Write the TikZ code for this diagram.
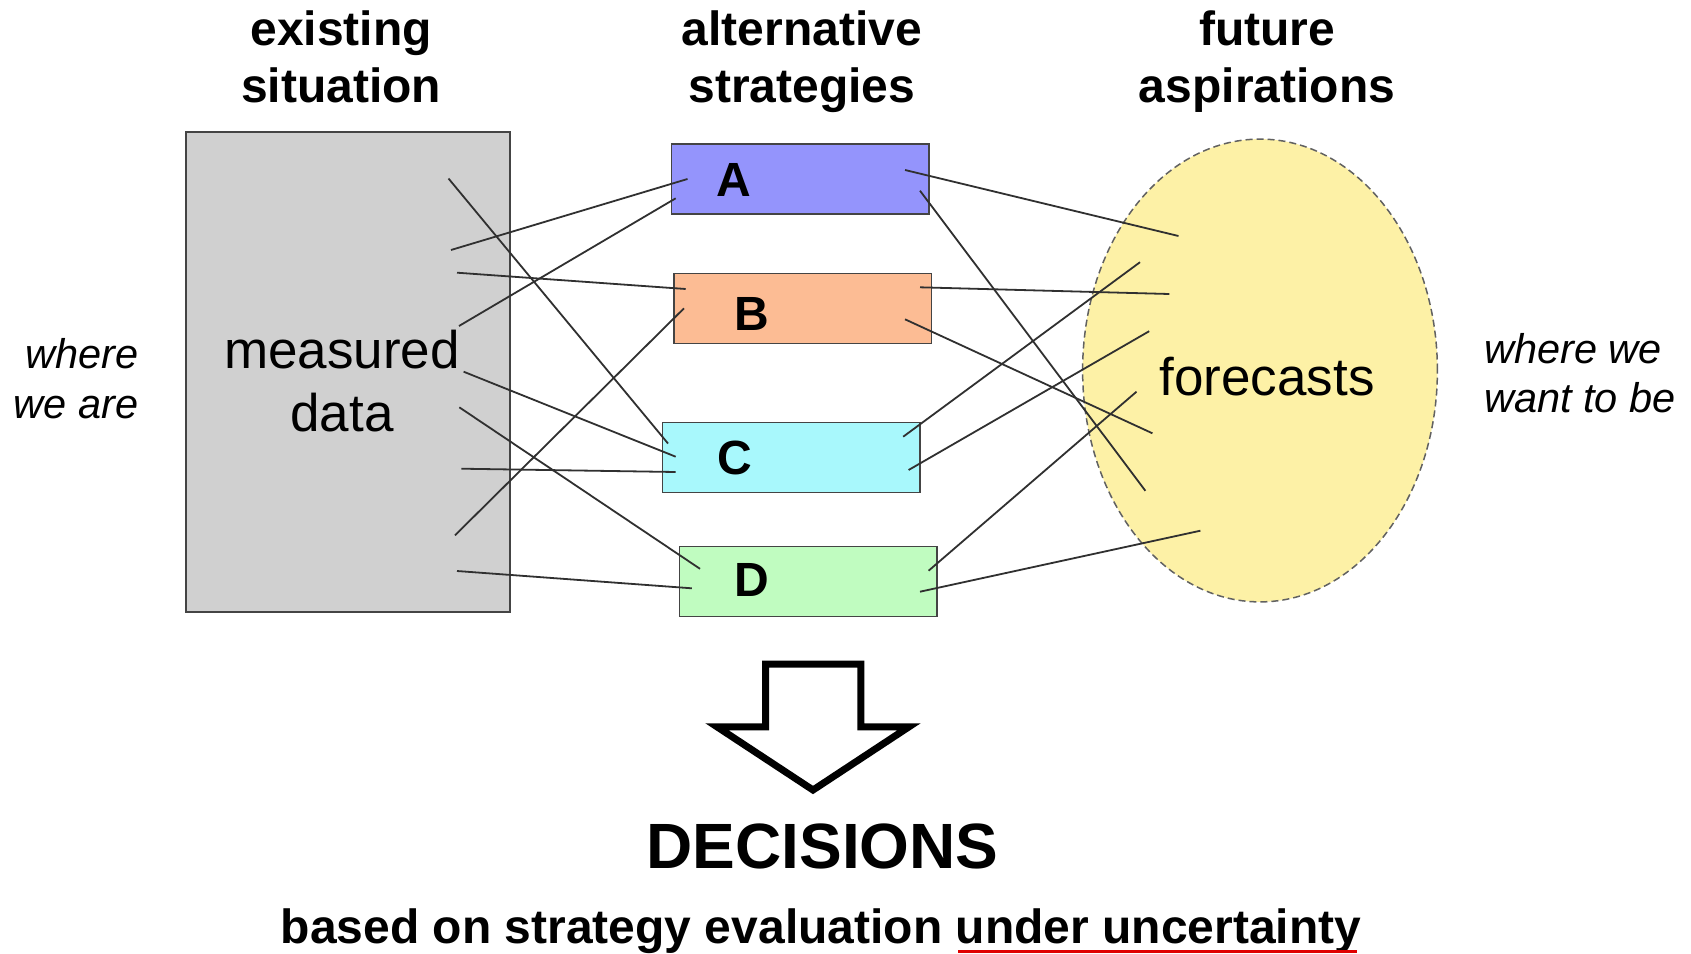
\documentclass[tikz,border=0pt]{standalone}
\usepackage{fontspec}
\setmainfont{Liberation Sans}
\usetikzlibrary{shapes.geometric}
\definecolor{grayfill}{HTML}{D0D0D0}
\definecolor{afill}{HTML}{9494FC}
\definecolor{bfill}{HTML}{FCBC94}
\definecolor{cfill}{HTML}{A8F8FC}
\definecolor{dfill}{HTML}{C0FCC0}
\definecolor{efill}{HTML}{FDF1A6}
\definecolor{linec}{HTML}{303030}
\definecolor{edgec}{HTML}{444444}
\definecolor{ulred}{HTML}{E00000}
\begin{document}
\begin{tikzpicture}[x=1pt,y=-1pt,
  conn/.style={draw=linec, line width=1.8pt},
  sbox/.style={draw=edgec, line width=1.6pt, inner sep=0pt, anchor=north west, minimum width=257.5pt, minimum height=70pt},
  title/.style={font=\fontsize{48}{56}\selectfont\bfseries, anchor=base, inner sep=0pt},
  letter/.style={font=\fontsize{48}{56}\selectfont\bfseries, anchor=base, inner sep=0pt},
  big/.style={font=\fontsize{53}{64}\selectfont, anchor=base, inner sep=0pt},
  side/.style={font=\fontsize{41.5}{49}\selectfont\itshape, inner sep=0pt}]
\useasboundingbox (0,0) rectangle (1691,953);
\fill[white] (0,0) rectangle (1691,953);

% titles
\node[title] (t1a) at (341,45) {existing};
\node[title] (t1b) at (341,102) {situation};
\node[title] (t2a) at (802,45) {alternative};
\node[title] (t2b) at (802,102) {strategies};
\node[title] (t3a) at (1267,45) {future};
\node[title] (t3b) at (1267,102) {aspirations};

% existing situation
\node[draw=edgec, line width=1.8pt, fill=grayfill, inner sep=0pt, anchor=north west,
      minimum width=324pt, minimum height=480pt] (data) at (185,130.7) {};
\node[big] (m1) at (342,368) {measured};
\node[big] (m2) at (342,431) {data};

% strategies
\node[sbox, fill=afill] (A) at (670.5,143.3) {};
\node[sbox, fill=bfill] (B) at (673,272.8) {};
\node[sbox, fill=cfill] (C) at (661.5,421.7) {};
\node[sbox, fill=dfill] (D) at (678.5,545.7) {};
\node[letter] (la) at (733.6,196.5) {A};
\node[letter] (lb) at (751.5,330) {B};
\node[letter] (lc) at (734.5,474) {C};
\node[letter] (ld) at (751.5,596) {D};

% future
\node[ellipse, draw=black!62, dash pattern=on 7pt off 4pt, line width=1.5pt, fill=efill,
      inner sep=0pt, minimum width=354.8pt, minimum height=462.8pt] (fut) at (1260,370.5) {};
\node[big] (fc) at (1267,395) {forecasts};

% side labels
\node[side, anchor=base east] (w1) at (138.5,368) {where};
\node[side, anchor=base east] (w2) at (138.5,418) {we are};
\node[side, anchor=base west] (w3) at (1484,363) {where we};
\node[side, anchor=base west] (w4) at (1484,412) {want to be};

% connector end points
\coordinate (g1) at (448.5,178.5);  \coordinate (c1) at (668,443.5);
\coordinate (g2) at (451,250);      \coordinate (a2) at (687.5,179);
\coordinate (g3) at (459,326);      \coordinate (a3) at (675.7,198.3);
\coordinate (g4) at (457,272.7);    \coordinate (b4) at (685.7,289);
\coordinate (g5) at (463.6,371.7);  \coordinate (c5) at (675.7,456.7);
\coordinate (g6) at (459.3,407.3);  \coordinate (d6) at (700,568.8);
\coordinate (g7) at (461.4,468.7);  \coordinate (c7) at (675.7,472);
\coordinate (g8) at (455,535.3);    \coordinate (b8) at (684,308.3);
\coordinate (g9) at (457,571);      \coordinate (d9) at (691.8,588.3);
\coordinate (a10) at (905,170);     \coordinate (f10) at (1178.5,236);
\coordinate (a11) at (920,190.7);   \coordinate (f11) at (1145.4,490.8);
\coordinate (b12) at (920,287.3);   \coordinate (f12) at (1169.3,294);
\coordinate (b13) at (905,319.3);   \coordinate (f13) at (1152.4,433.3);
\coordinate (c14) at (903.2,436.7); \coordinate (f14) at (1140,262.2);
\coordinate (c15) at (908.6,470);   \coordinate (f15) at (1149.2,331.2);
\coordinate (d16) at (928.6,570.7); \coordinate (f16) at (1136.5,391.7);
\coordinate (d17) at (920,591.7);   \coordinate (f17) at (1200.4,530.7);

\draw[conn] (g1) -- (c1);
\draw[conn] (g2) -- (a2);
\draw[conn] (g3) -- (a3);
\draw[conn] (g4) -- (b4);
\draw[conn] (g5) -- (c5);
\draw[conn] (g6) -- (d6);
\draw[conn] (g7) -- (c7);
\draw[conn] (g8) -- (b8);
\draw[conn] (g9) -- (d9);
\draw[conn] (a10) -- (f10);
\draw[conn] (a11) -- (f11);
\draw[conn] (b12) -- (f12);
\draw[conn] (b13) -- (f13);
\draw[conn] (c14) -- (f14);
\draw[conn] (c15) -- (f15);
\draw[conn] (d16) -- (f16);
\draw[conn] (d17) -- (f17);

% big hollow arrow
\draw[line width=7pt, line join=miter, fill=white]
  (765.5,664.2) -- (860.8,664.2) -- (860.8,726.8) -- (909,726.8) -- (813,790)
  -- (717,726.8) -- (765.5,726.8) -- cycle;

% decisions
\node[font=\fontsize{64}{70}\selectfont\bfseries, anchor=base, inner sep=0pt] (dec) at (822.5,868) {DECISIONS};
\node[font=\fontsize{48}{56}\selectfont\bfseries, anchor=base, inner sep=0pt] (basis) at (821,943)
  {based on strategy evaluation under uncertainty};
\coordinate (u1) at (958,951);
\coordinate (u2) at (1357,951);
\draw[ulred, line width=3pt] (u1) -- (u2);
\end{tikzpicture}
\end{document}
